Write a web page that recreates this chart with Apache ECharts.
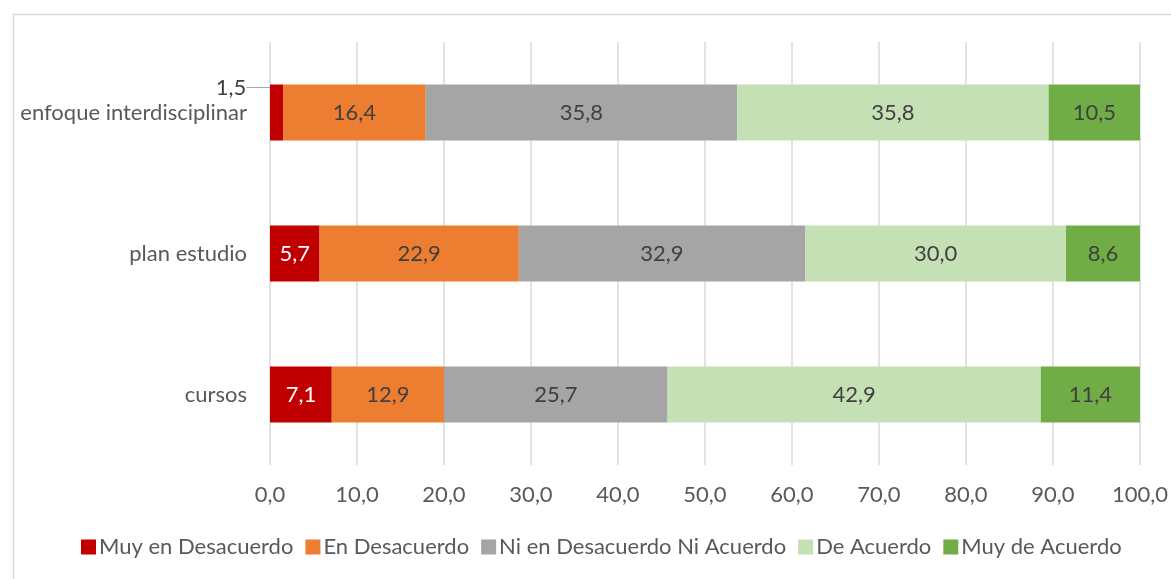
<!DOCTYPE html>
<html lang="es">
<head>
    <meta charset="UTF-8">
    <title>Barras apiladas</title>
    <script src="https://cdn.jsdelivr.net/npm/echarts@6/dist/echarts.min.js"></script>
</head>
<body style="margin:0;background:#fff">
<div id="grafico" style="width: 1171px;height:579px"></div>
<script type="text/javascript">
    // categorias de abajo hacia arriba (eje de categorias de echarts)
    var categorias = ['cursos', 'plan estudio', 'enfoque interdisciplinar'];
    var muyDesacuerdo = [7.1, 5.7, 1.5];
    var desacuerdo = [12.9, 22.9, 16.4];
    var neutro = [25.7, 32.9, 35.8];
    var acuerdo = [42.9, 30.0, 35.8];
    var muyAcuerdo = [11.4, 8.6, 10.5];
    var nombres = ['Muy en Desacuerdo', 'En Desacuerdo', 'Ni en Desacuerdo Ni Acuerdo', 'De Acuerdo', 'Muy de Acuerdo'];
    var colores = ['#C00000', '#ED7D31', '#A5A5A5', '#C5E0B4', '#70AD47'];

    var fuente = 'Lato';
    var tam = 22;
    function coma(v) {
        return Number(v).toFixed(1).replace('.', ',');
    }

    var myChart = echarts.init(document.getElementById('grafico'));

    var series = [muyDesacuerdo, desacuerdo, neutro, acuerdo, muyAcuerdo].map(function (datos, i) {
        return {
            name: nombres[i],
            type: 'bar',
            stack: 'total',
            barWidth: 56,
            data: datos.map(function (v, j) {
                var item = {value: v};
                // el 1,5 va fuera de la barra con linea guia
                if (i === 0 && j === 2) {
                    item.labelLine = {show: true};
                    item.label = {color: '#404040', padding: [0, 9, 0, 0]};
                }
                return item;
            }),
            itemStyle: {color: colores[i]},
            label: {
                show: true,
                position: 'inside',
                color: i === 0 ? '#ffffff' : '#404040',
                fontFamily: fuente,
                fontSize: tam,
                formatter: function (p) {
                    return coma(p.value);
                }
            },
            labelLine: {
                show: false,
                lineStyle: {color: '#a6a6a6', width: 1}
            },
            labelLayout: function (p) {
                if (i === 0 && p.dataIndex === 2) {
                    return {dx: -41, dy: -25};
                }
                return {};
            }
        };
    });

    var option = {
        backgroundColor: '#ffffff',
        animation: false,
        graphic: [{
            type: 'rect',
            left: 11,
            top: 12,
            shape: {width: 1200, height: 620},
            style: {fill: 'none', stroke: '#d9d9d9', lineWidth: 1.5}
        }],
        grid: {left: 270, right: 30, top: 42, bottom: 114},
        legend: {
            data: nombres,
            bottom: 16,
            left: 76,
            icon: 'rect',
            itemWidth: 15,
            itemHeight: 15,
            itemGap: 12,
            textStyle: {color: '#595959', fontFamily: fuente, fontSize: tam, padding: [0, 0, 0, -2]}
        },
        xAxis: {
            type: 'value',
            min: 0,
            max: 100,
            interval: 10,
            axisLine: {show: false},
            axisTick: {show: false},
            splitLine: {lineStyle: {color: '#d9d9d9', width: 1.5}},
            axisLabel: {
                color: '#595959',
                fontFamily: fuente,
                fontSize: tam,
                margin: 19,
                formatter: function (v) {
                    return coma(v);
                }
            }
        },
        yAxis: {
            type: 'category',
            data: categorias,
            axisLine: {show: false},
            axisTick: {show: false},
            axisLabel: {
                color: '#595959',
                fontFamily: fuente,
                fontSize: tam,
                margin: 23
            }
        },
        series: series
    };

    myChart.setOption(option);
</script>
</body>
</html>
